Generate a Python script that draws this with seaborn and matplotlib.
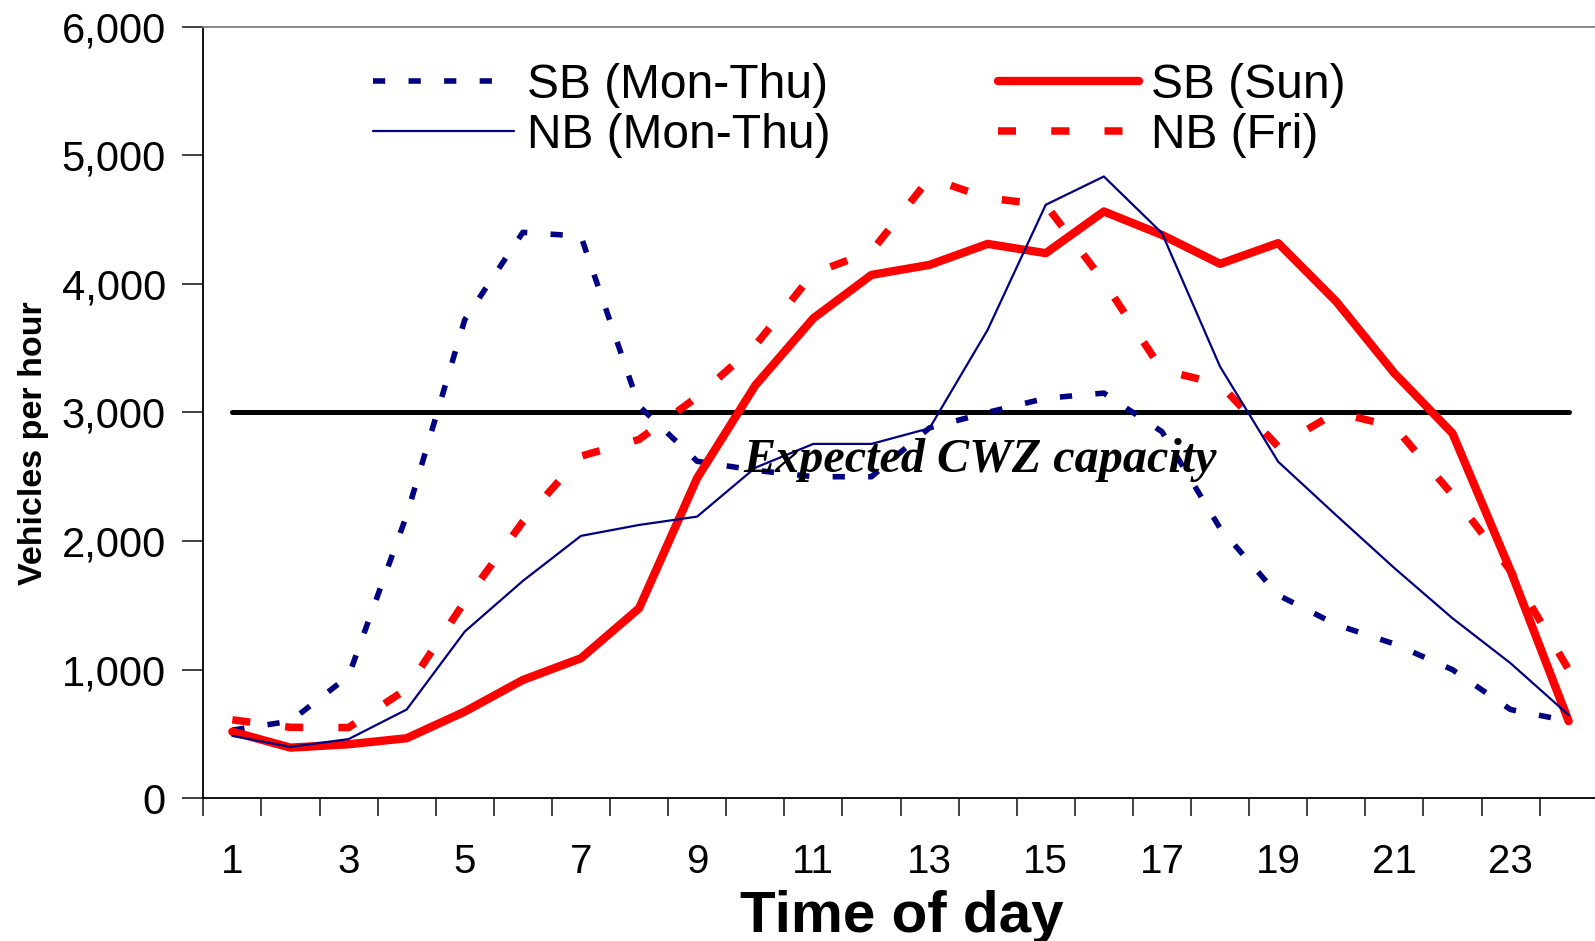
import numpy as np
import pandas as pd
import matplotlib
matplotlib.use("Agg")
import matplotlib.pyplot as plt
import seaborn as sns

hours = list(range(1, 25))
sb_mon_thu = [530, 600, 950, 2200, 3720, 4400, 4370, 3050, 2620, 2550, 2500, 2500,
              2880, 3000, 3110, 3150, 2850, 2100, 1580, 1350, 1200, 1000, 690, 600]
nb_mon_thu = [485, 400, 460, 690, 1296, 1690, 2040, 2125, 2190, 2570, 2755, 2755,
              2877, 3642, 4614, 4834, 4394, 3356, 2617, 2200, 1790, 1400, 1050, 648]
sb_sun = [518, 394, 420, 467, 674, 920, 1089, 1477, 2490, 3210, 3732, 4069,
          4147, 4310, 4238, 4562, 4380, 4155, 4316, 3862, 3305, 2838, 1770, 600]
nb_fri = [610, 552, 550, 850, 1530, 2150, 2660, 2790, 3120, 3520, 4082, 4251,
          4821, 4666, 4614, 4017, 3330, 3220, 2734, 3000, 2890, 2360, 1770, 1000]
capacity = 3000
capacity_label = "Expected CWZ capacity"
series_labels = ["SB (Mon-Thu)", "NB (Mon-Thu)", "SB (Sun)", "NB (Fri)"]
y_ticks = [0, 1000, 2000, 3000, 4000, 5000, 6000]
x_ticklabels = list(range(1, 24, 2))

sns.set_style("white")
plt.rcParams['font.family'] = ['Liberation Sans', 'DejaVu Sans']
plt.rcParams.update({
    "text.color": "black", "axes.labelcolor": "black",
    "xtick.color": "black", "ytick.color": "black",
    "xtick.bottom": True, "ytick.left": True,
    "xtick.minor.bottom": True,
})

W, H = 1595, 941
fig = plt.figure(figsize=(W / 100, H / 100), dpi=100)
ax = fig.add_axes([203.3 / W, 1 - 798.3 / H, 1394.4 / W, (798.3 - 26.5) / H])

navy = "#000080"
red = "#FF0000"

df = pd.DataFrame({"hour": hours, "sbm": sb_mon_thu, "nbm": nb_mon_thu,
                   "sbs": sb_sun, "nbf": nb_fri})

# capacity line
cap_df = pd.DataFrame({"hour": [hours[0], hours[-1]], "v": [capacity, capacity]})
sns.lineplot(data=cap_df, x="hour", y="v", ax=ax, color="black", linewidth=3.6,
             solid_capstyle="round", zorder=2)

sns.lineplot(data=df, x="hour", y="sbm", ax=ax, color=navy, linewidth=4.0,
             linestyle=(0, (2.2, 4.2)), zorder=3)
h1 = ax.lines[-1]
sns.lineplot(data=df, x="hour", y="nbf", ax=ax, color=red, linewidth=5.4,
             linestyle=(0, (2.4, 4.7)), zorder=3)
h4 = ax.lines[-1]
sns.lineplot(data=df, x="hour", y="sbs", ax=ax, color=red, linewidth=6.0,
             solid_capstyle="round", solid_joinstyle="round", zorder=4)
h3 = ax.lines[-1]
sns.lineplot(data=df, x="hour", y="nbm", ax=ax, color=navy, linewidth=1.6, zorder=5)
h2 = ax.lines[-1]

ax.set_xlim(0.5, 24.5)
ax.set_ylim(0, 6000)
ax.set_yticks(y_ticks)
ax.set_yticklabels([f"{v:,}" for v in y_ticks], fontsize=30)
ax.set_xticks(x_ticklabels)
ax.set_xticklabels([str(v) for v in x_ticklabels], fontsize=29)
ax.set_xticks(np.arange(0.5, 24.6, 1.0), minor=True)
ax.tick_params(axis="x", which="major", bottom=True, length=0, pad=32)
ax.tick_params(axis="x", which="minor", bottom=True, length=13, width=1.3,
               color="#333333", direction="out")
ax.tick_params(axis="y", which="major", left=True, length=15, width=1.3, color="#333333",
               direction="out", pad=12)
ax.set_xlabel("")
ax.set_ylabel("")

for side in ["left", "bottom"]:
    ax.spines[side].set_color("black")
    ax.spines[side].set_linewidth(1.3)
ax.spines["top"].set_color("#808080")
ax.spines["top"].set_linewidth(1.3)
ax.spines["right"].set_color("#808080")

ax.text(9.79, 2540, capacity_label, fontsize=34.7, fontweight="bold", fontstyle="italic",
        family=["Liberation Serif", "DejaVu Serif"], ha="left", va="baseline",
        color="black", zorder=6)

leg = ax.legend([h1, h2, h3, h4], series_labels, ncol=2, loc="upper left",
                bbox_to_anchor=(373 / W, 1 - 63 / H), bbox_transform=fig.transFigure,
                frameon=False, fontsize=34.5, handlelength=2.94, handletextpad=0.265,
                columnspacing=3.5, labelspacing=0.1, borderpad=0, borderaxespad=0)

fig.text(901.5 / W, 1 - 932 / H, "Time of day", fontsize=42, fontweight="bold",
         ha="center", va="baseline")
fig.text(33.5 / W, 1 - 443.5 / H, "Vehicles per hour", fontsize=24.5, fontweight="bold",
         rotation=90, ha="center", va="center")

fig.savefig("out.png", dpi=100)
